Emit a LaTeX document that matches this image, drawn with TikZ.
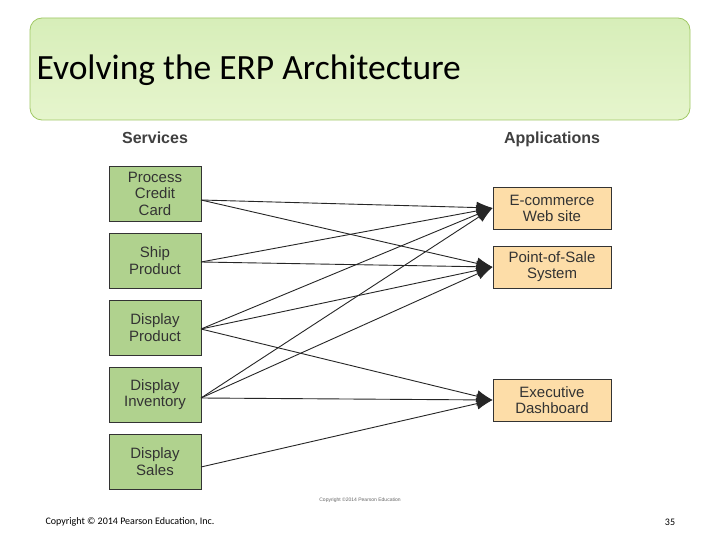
\documentclass[tikz,border=0pt]{standalone}
\usepackage{fontspec}
\setmainfont{Carlito}
\newfontfamily\arl{Liberation Sans}
\begin{document}
\begin{tikzpicture}[x=1pt,y=-1pt,
 svc/.style={draw=black!80,line width=0.8pt,fill={rgb,255:red,176;green,210;blue,142},minimum width=92pt,minimum height=55pt,inner sep=0,align=center,font=\arl\fontsize{15}{16.5}\selectfont,text=black!80},
 app/.style={draw=black!80,line width=0.8pt,fill={rgb,255:red,253;green,221;blue,168},minimum width=118pt,minimum height=42pt,inner sep=0,align=center,font=\arl\fontsize{15}{16}\selectfont,text=black!80},
 arr/.style={-{Latex[length=16pt,width=12pt]},line width=0.9pt,black!85}]
\usetikzlibrary{arrows.meta}
\useasboundingbox (0,0) rectangle (720,540);
\fill[white] (0,0) rectangle (720,540);
\node[draw={rgb,255:red,160;green,200;blue,100},line width=0.8pt,rounded corners=12pt,top color={rgb,255:red,215;green,238;blue,185},bottom color={rgb,255:red,230;green,245;blue,205},minimum width=660pt,minimum height=102pt] (tb) at (360,69) {};
\node[anchor=west,font=\fontsize{35.5}{38}\selectfont] (title) at (33,70) {Evolving the ERP Architecture};
\node[anchor=base,font=\arl\bfseries\fontsize{16}{17}\selectfont,text=black!75] (hs) at (155,144) {Services};
\node[anchor=base,font=\arl\bfseries\fontsize{16}{17}\selectfont,text=black!75] (ha) at (552,144) {Applications};
\node[svc] (pcc) at (155,193.5) {Process\\Credit\\Card};
\node[svc] (sp) at (155,260.5) {Ship\\Product};
\node[svc] (dp) at (155,327.5) {Display\\Product};
\node[svc] (di) at (155,394.5) {Display\\Inventory};
\node[svc] (ds) at (155,461.5) {Display\\Sales};
\node[app] (ec) at (552,208) {E-commerce\\Web site};
\node[app] (pos) at (552,267) {Point-of-Sale\\System};
\node[app] (ex) at (552,400) {Executive\\Dashboard};
\coordinate (o1) at (201,200); \coordinate (o2) at (201,262);
\coordinate (o3) at (201,329); \coordinate (o4) at (201,398);
\coordinate (o5) at (201,467);
\foreach \s in {o1,o2,o3,o4} {\draw[arr] (\s) -- (ec.west); \draw[arr] (\s) -- (pos.west);}
\foreach \s in {o3,o4,o5} {\draw[arr] (\s) -- (ex.west);}
\node[font=\arl\fontsize{5}{6}\selectfont,text=black!60] (cp) at (360,500) {Copyright \textcopyright 2014 Pearson Education};
\node[anchor=west,font=\fontsize{10}{12}\selectfont] (f1) at (42,522) {Copyright \textcopyright{} 2014 Pearson Education, Inc.};
\node[font=\fontsize{10}{12}\selectfont] (f2) at (670,522) {35};
\end{tikzpicture}
\end{document}
